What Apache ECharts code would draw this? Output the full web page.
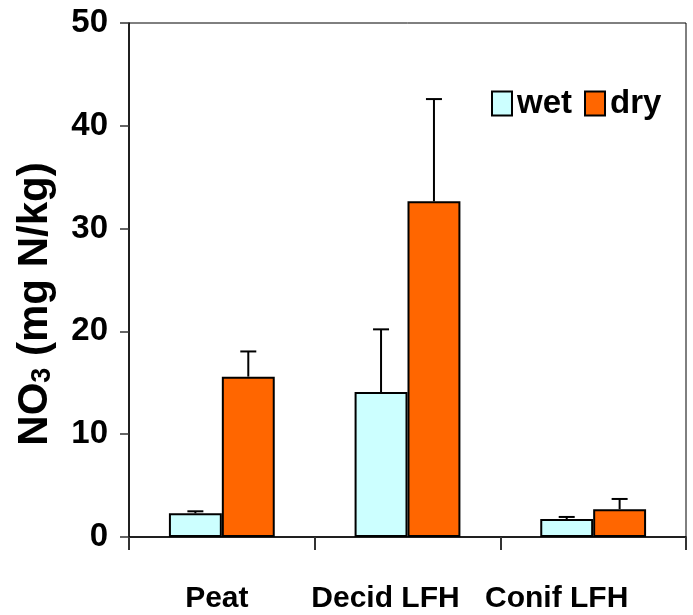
<!DOCTYPE html>
<html>
<head>
<meta charset="utf-8">
<style>
  html, body { margin: 0; padding: 0; background: #fff; }
  #chart { width: 693px; height: 615px; }
</style>
<script src="https://cdn.jsdelivr.net/npm/echarts@6/dist/echarts.min.js"></script>
</head>
<body>
<div id="chart"></div>
<script>
// Soil nitrate (NO3) by substrate, wet vs dry treatment, mean + upper error
const categories = ['Peat', 'Decid LFH', 'Conif LFH'];
const wetMean = [2.3, 14.1, 1.75];
const wetErr = [0.2, 6.1, 0.2];
const dryMean = [15.6, 32.65, 2.7];
const dryErr = [2.45, 9.95, 1.0];
const yTicks = [0, 10, 20, 30, 40, 50];

const FONT = "'Liberation Sans', Arial, sans-serif";
const FS = 33;
const CAT_FS = 30;
const CAT_GAP = 0.43;

// label shifts (px) for each category label, applied as right padding
const labelShift = [10, 44, 73];

function errorSeries(name, means, errs, side) {
  return {
    type: 'custom',
    name: name + ' error',
    z: 5,
    data: means.map((m, i) => [i, m, m + errs[i]]),
    renderItem: function (params, api) {
      const band = api.size([1, 0])[0];
      const bw = band * (1 - CAT_GAP) / 2;
      const base = api.coord([api.value(0), api.value(1)]);
      const top = api.coord([api.value(0), api.value(2)]);
      const x = base[0] + side * bw / 2;
      const cap = 8;
      const style = { stroke: '#000', lineWidth: 2 };
      return {
        type: 'group',
        children: [
          { type: 'line', shape: { x1: x, y1: base[1], x2: x, y2: top[1] }, style: style },
          { type: 'line', shape: { x1: x - cap, y1: top[1], x2: x + cap, y2: top[1] }, style: style }
        ]
      };
    },
    tooltip: { show: false }
  };
}

const catRich = {};
labelShift.forEach((p, i) => {
  catRich['s' + i] = { fontFamily: FONT, fontWeight: 'bold', fontSize: CAT_FS, color: '#000', padding: [0, p, 0, 0] };
});

const chart = echarts.init(document.getElementById('chart'));
chart.setOption({
  animation: false,
  textStyle: { fontFamily: FONT },
  grid: {
    left: 129, right: 7, top: 23, bottom: 78,
    show: true, borderColor: '#000', borderWidth: 1, backgroundColor: 'transparent'
  },
  legend: {
    data: ['wet', 'dry'],
    left: 491, top: 87, padding: 0,
    itemWidth: 20, itemHeight: 24, itemGap: 12,
    icon: 'rect',
    textStyle: { fontFamily: FONT, fontWeight: 'bold', fontSize: FS, color: '#000' },
    itemStyle: { borderColor: '#000', borderWidth: 2 }
  },
  xAxis: {
    type: 'category',
    data: categories,
    axisLine: { lineStyle: { color: '#000', width: 1.5 } },
    axisTick: { show: true, length: 13, lineStyle: { color: '#333', width: 2 } },
    axisLabel: {
      interval: 0,
      margin: 47,
      color: '#000',
      fontFamily: FONT,
      fontWeight: 'bold',
      fontSize: CAT_FS,
      formatter: function (v) { return '{s' + categories.indexOf(v) + '|' + v + '}'; },
      rich: catRich
    }
  },
  yAxis: {
    type: 'value',
    min: yTicks[0],
    max: yTicks[yTicks.length - 1],
    interval: yTicks[1] - yTicks[0],
    name: '{b|NO}{sub|3}{b| (mg N/kg)}',
    nameLocation: 'middle',
    nameGap: 73,
    nameRotate: 90,
    nameTextStyle: {
      padding: [0, 48, 0, 0],
      rich: {
        b: { fontFamily: FONT, fontWeight: 'bold', fontSize: 42, color: '#000' },
        sub: { fontFamily: FONT, fontWeight: 'bold', fontSize: 27, color: '#000', verticalAlign: 'bottom', padding: [8, 0, 0, 0] }
      }
    },
    axisLine: { show: true, lineStyle: { color: '#000', width: 1.5 } },
    axisTick: { show: true, length: 9, lineStyle: { color: '#333', width: 1.5 } },
    splitLine: { show: false },
    axisLabel: {
      margin: 21,
      color: '#000',
      fontFamily: FONT,
      fontWeight: 'bold',
      fontSize: FS
    }
  },
  series: [
    {
      name: 'wet',
      type: 'bar',
      data: wetMean,
      barGap: '0%',
      barCategoryGap: (CAT_GAP * 100) + '%',
      itemStyle: { color: '#CCFFFF', borderColor: '#000', borderWidth: 2 }
    },
    {
      name: 'dry',
      type: 'bar',
      data: dryMean,
      itemStyle: { color: '#FF6600', borderColor: '#000', borderWidth: 2 }
    },
    errorSeries('wet', wetMean, wetErr, -1),
    errorSeries('dry', dryMean, dryErr, 1)
  ]
});
</script>
</body>
</html>
